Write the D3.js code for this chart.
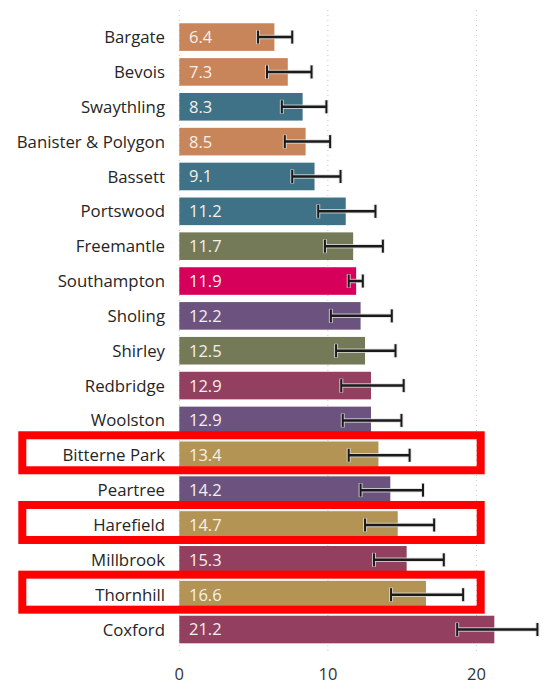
<!DOCTYPE html>
<html>
<head>
<meta charset="utf-8">
<script src="https://cdn.jsdelivr.net/npm/d3@7"></script>
<style>
  html, body { margin: 0; padding: 0; background: #fff; }
  svg { display: block; }
</style>
</head>
<body>
<svg id="chart" width="550" height="692"></svg>
<script>
const categories = ["Bargate","Bevois","Swaythling","Banister & Polygon","Bassett","Portswood","Freemantle","Southampton","Sholing","Shirley","Redbridge","Woolston","Bitterne Park","Peartree","Harefield","Millbrook","Thornhill","Coxford"];
const values = [6.4,7.3,8.3,8.5,9.1,11.2,11.7,11.9,12.2,12.5,12.9,12.9,13.4,14.2,14.7,15.3,16.6,21.2];
const lowerCI = [5.3,5.9,6.9,7.1,7.6,9.35,9.8,11.4,10.2,10.55,10.9,11.0,11.4,12.2,12.5,13.1,14.25,18.7];
const upperCI = [7.6,8.9,9.9,10.15,10.85,13.2,13.7,12.35,14.3,14.55,15.1,14.95,15.5,16.4,17.15,17.8,19.1,24.1];
const groups = ["orange","orange","teal","orange","teal","teal","olive","city","purple","olive","maroon","purple","gold","purple","gold","maroon","gold","maroon"];
const highlighted = ["Bitterne Park","Harefield","Thornhill"];
const xTicks = [0,10,20];

const palette = {
  orange: "#C8855A",
  teal: "#3F7286",
  olive: "#747A57",
  city: "#D6005A",
  purple: "#6C537F",
  maroon: "#933F5F",
  gold: "#B39455"
};

const svg = d3.select("#chart");
const font = "'Open Sans', 'Noto Sans', sans-serif";

const x = d3.scaleLinear().domain([0, 20]).range([179.3, 476.5]);
const y = d3.scaleBand().domain(categories).range([16.3, 650.3]).paddingInner(0.208).paddingOuter(0.2);

// gridlines
svg.append("g").selectAll("line").data(xTicks).join("line")
  .attr("x1", d => x(d)).attr("x2", d => x(d))
  .attr("y1", 10).attr("y2", 651)
  .attr("stroke", "#c8c8c8").attr("stroke-width", 1)
  .attr("stroke-dasharray", "1,4");

const data = categories.map((c, i) => ({c, v: values[i], lo: lowerCI[i], hi: upperCI[i], g: groups[i]}));

// bars
svg.append("g").selectAll("rect").data(data).join("rect")
  .attr("x", x(0))
  .attr("y", d => y(d.c))
  .attr("width", d => x(d.v) - x(0))
  .attr("height", y.bandwidth())
  .attr("fill", d => palette[d.g]);

// value labels
svg.append("g").selectAll("text").data(data).join("text")
  .attr("x", 189)
  .attr("y", d => y(d.c) + y.bandwidth() / 2)
  .attr("dy", "0.36em")
  .attr("fill", "#f4f0ec")
  .attr("font-family", font)
  .attr("font-size", 16.5)
  .text(d => d.v.toFixed(1));

// error bars
const eb = svg.append("g");
data.forEach(d => {
  const cy = y(d.c) + y.bandwidth() / 2;
  const g = eb.append("g");
  g.append("line").attr("x1", x(d.lo)).attr("x2", x(d.hi)).attr("y1", cy).attr("y2", cy)
    .attr("stroke", "rgba(220,220,220,0.8)").attr("stroke-width", 4.5);
  [d.lo, d.hi].forEach(v => {
    g.append("line").attr("x1", x(v)).attr("x2", x(v)).attr("y1", cy - 7).attr("y2", cy + 7)
      .attr("stroke", "rgba(220,220,220,0.8)").attr("stroke-width", 4);
  });
  g.append("line").attr("x1", x(d.lo)).attr("x2", x(d.hi)).attr("y1", cy).attr("y2", cy)
    .attr("stroke", "#1a1a1a").attr("stroke-width", 2.5);
  [d.lo, d.hi].forEach(v => {
    g.append("line").attr("x1", x(v)).attr("x2", x(v)).attr("y1", cy - 6.5).attr("y2", cy + 6.5)
      .attr("stroke", "#1a1a1a").attr("stroke-width", 2);
  });
});

// category labels
svg.append("g").selectAll("text").data(data).join("text")
  .attr("x", 165)
  .attr("y", d => y(d.c) + y.bandwidth() / 2)
  .attr("dy", "0.36em")
  .attr("text-anchor", "end")
  .attr("fill", "#252525")
  .attr("font-family", font)
  .attr("font-size", 16.8)
  .attr("textLength", null)
  .text(d => d.c);

// x axis tick labels
svg.append("g").selectAll("text").data(xTicks).join("text")
  .attr("x", d => x(d))
  .attr("y", 680)
  .attr("text-anchor", "middle")
  .attr("fill", "#333")
  .attr("font-family", font)
  .attr("font-size", 16.5)
  .text(d => d);

// highlight boxes
svg.append("g").selectAll("rect").data(highlighted).join("rect")
  .attr("x", 22.3)
  .attr("y", d => y(d) + y.bandwidth() / 2 - 2.5 - 17.5)
  .attr("width", 480.7 - 22.3)
  .attr("height", 35)
  .attr("fill", "none")
  .attr("stroke", "#FF0000")
  .attr("stroke-width", 8);
</script>
</body>
</html>
